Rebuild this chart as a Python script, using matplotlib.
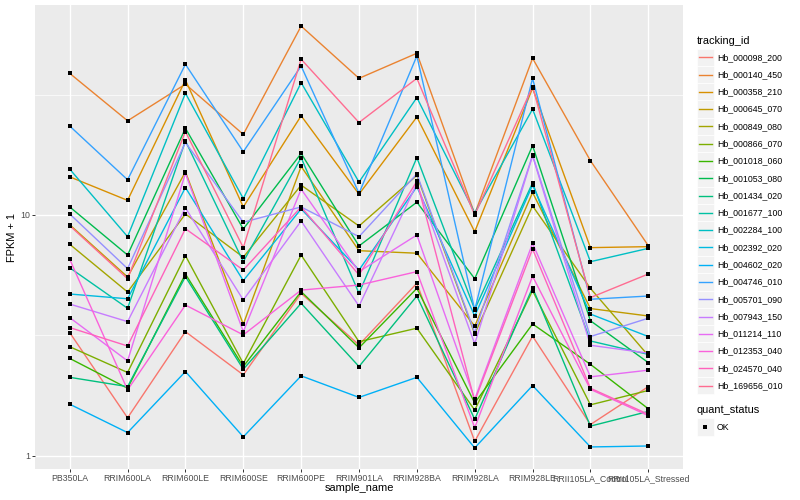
import numpy as np
import matplotlib
matplotlib.use("Agg")  # no display in the sandbox
import matplotlib.pyplot as plt
from matplotlib.lines import Line2D
from matplotlib.patches import Rectangle
from matplotlib.ticker import NullFormatter

plt.rcParams["font.family"] = ["Liberation Sans", "DejaVu Sans"]

# ── Data (FPKM + 1) ─────────────────────────────────────────────────────────
samples = ["PB350LA", "RRIM600LA", "RRIM600LE", "RRIM600SE", "RRIM600PE",
           "RRIM901LA", "RRIM928BA", "RRIM928LA", "RRIM928LE",
           "RRII105LA_Control", "RRII105LA_Stressed"]

tracking_ids = ["Hb_000098_200", "Hb_000140_450", "Hb_000358_210", "Hb_000645_070",
                "Hb_000849_080", "Hb_000866_070", "Hb_001018_060", "Hb_001053_080",
                "Hb_001434_020", "Hb_001677_100", "Hb_002284_100", "Hb_002392_020",
                "Hb_004602_020", "Hb_004746_010", "Hb_005701_090", "Hb_007943_150",
                "Hb_011214_110", "Hb_012353_040", "Hb_024570_040", "Hb_169656_010"]

hb_000098_200 = [3.25, 1.44, 3.28, 2.17, 4.73, 2.89, 5.21, 1.15, 3.14, 1.35, 1.94]
hb_000140_450 = [38.7, 24.6, 34.9, 21.6, 60.8, 36.9, 46.9, 10.1, 44.7, 16.8, 7.46]
hb_000358_210 = [14.4, 11.5, 36.3, 10.8, 25.8, 12.2, 25.5, 8.52, 33.6, 7.32, 7.39]
hb_000645_070 = [9.11, 5.53, 15.1, 3.52, 15.9, 7.11, 6.94, 3.46, 12.4, 4.09, 3.81]
hb_000849_080 = [7.56, 4.79, 10.1, 6.68, 13.3, 9.00, 14.6, 3.21, 10.9, 4.96, 2.61]
hb_000866_070 = [2.84, 2.22, 6.78, 2.42, 6.82, 2.98, 3.39, 1.55, 4.85, 1.63, 1.87]
hb_001018_060 = [2.54, 1.91, 5.69, 2.35, 4.81, 2.81, 4.96, 1.66, 3.53, 2.40, 1.57]
hb_001053_080 = [10.8, 6.82, 22.9, 8.75, 18.0, 7.44, 11.3, 5.44, 19.4, 3.64, 2.44]
hb_001434_020 = [2.12, 1.94, 5.55, 2.29, 4.30, 2.35, 4.61, 1.42, 4.99, 1.33, 1.53]
hb_001677_100 = [6.04, 4.10, 20.3, 6.40, 17.3, 4.73, 17.3, 4.06, 13.6, 3.00, 2.64]
hb_002284_100 = [15.5, 8.13, 32.0, 11.7, 35.4, 13.7, 30.7, 10.2, 27.5, 6.40, 7.27]
hb_002392_020 = [4.70, 4.49, 13.0, 5.34, 10.6, 5.91, 13.1, 3.81, 13.3, 3.88, 3.13]
hb_004602_020 = [1.64, 1.25, 2.24, 1.20, 2.15, 1.75, 2.12, 1.08, 1.96, 1.09, 1.10]
hb_004746_010 = [23.4, 14.0, 42.2, 18.3, 41.5, 12.3, 45.7, 4.04, 36.9, 4.47, 4.61]
hb_005701_090 = [10.1, 5.99, 20.0, 9.33, 10.8, 8.13, 14.8, 3.25, 17.7, 3.13, 3.73]
hb_007943_150 = [4.27, 3.61, 10.7, 4.44, 9.44, 4.19, 13.5, 2.92, 17.6, 2.88, 2.67]
hb_011214_110 = [3.75, 2.48, 14.9, 3.28, 12.8, 5.82, 8.26, 1.72, 7.63, 2.13, 2.27]
hb_012353_040 = [6.55, 1.88, 4.23, 3.18, 4.88, 5.12, 5.82, 1.31, 5.57, 1.89, 1.47]
hb_024570_040 = [3.41, 2.86, 8.77, 5.91, 10.8, 5.64, 13.8, 1.69, 7.23, 1.91, 1.49]
hb_169656_010 = [9.03, 5.44, 22.2, 7.32, 44.3, 24.2, 36.9, 10.0, 34.1, 4.54, 5.69]

series = [hb_000098_200, hb_000140_450, hb_000358_210, hb_000645_070,
          hb_000849_080, hb_000866_070, hb_001018_060, hb_001053_080,
          hb_001434_020, hb_001677_100, hb_002284_100, hb_002392_020,
          hb_004602_020, hb_004746_010, hb_005701_090, hb_007943_150,
          hb_011214_110, hb_012353_040, hb_024570_040, hb_169656_010]

quant_levels = ["OK"]

# ggplot default hue palette for 20 levels
palette = ["#F8766D", "#EA8331", "#D89000", "#C09B00", "#A3A500", "#7CAE00",
           "#39B600", "#00BB4E", "#00BF7D", "#00C1A3", "#00BFC4", "#00BAE0",
           "#00B0F6", "#35A2FF", "#9590FF", "#C77CFF", "#E76BF3", "#FA62DB",
           "#FF62BC", "#FF6C91"]

W, H = 800, 500


def fx(px):
    return px / W


def fy(py):
    return 1 - py / H


# ── Figure / panel ───────────────────────────────────────────────────────────
fig = plt.figure(figsize=(8, 5), dpi=100)
ax = fig.add_axes([fx(35), fy(469), 648 / W, 464 / H])
ax.set_facecolor("#EBEBEB")
for sp in ax.spines.values():
    sp.set_visible(False)

x = np.arange(len(samples))
for vals, col in zip(series, palette):
    ax.plot(x, vals, color=col, lw=1.0, zorder=2)
for vals in series:
    ax.plot(x, vals, "s", color="black", ms=2.7, mew=0, zorder=3)

ax.set_yscale("log")
all_vals = np.log10(np.concatenate([np.asarray(s) for s in series]))
lo, hi = all_vals.min(), all_vals.max()
pad = 0.05 * (hi - lo)
ax.set_ylim(10 ** (lo - pad), 10 ** (hi + pad))
ax.set_xlim(-0.6, len(samples) - 0.4)

ax.set_yticks([1, 10])
ax.set_yticklabels(["1", "10"])
ax.set_yticks([10 ** 0.5, 10 ** 1.5], minor=True)
ax.yaxis.set_minor_formatter(NullFormatter())
ax.set_xticks(x)
ax.set_xticklabels(samples)

ax.tick_params(which="major", length=2.0, width=0.7, color="#333333",
               labelcolor="#4D4D4D", labelsize=6.3, pad=1.5)
ax.tick_params(which="minor", length=0)
ax.set_axisbelow(True)
ax.grid(True, which="major", color="white", lw=1.0)
ax.grid(True, which="minor", axis="y", color="white", lw=0.5)

fig.text(fx(12), fy(237), "FPKM + 1", rotation=90, ha="center", va="center",
         fontsize=7.9, color="black")
fig.text(fx(359), fy(488), "sample_name", ha="center", va="center",
         fontsize=7.9, color="black")

# ── Legends (drawn by hand, ggplot style) ────────────────────────────────────
key = 17.28
kx = 696.5
fig.text(fx(kx), fy(40.5), "tracking_id", ha="left", va="center", fontsize=7.9)
for i, (name, col) in enumerate(zip(tracking_ids, palette)):
    cy = 57.3 + key * i
    fig.add_artist(Rectangle((fx(kx), fy(cy + key / 2)), key / W, key / H,
                             transform=fig.transFigure, facecolor="#F2F2F2",
                             edgecolor="white", lw=0.5))
    fig.add_artist(Line2D([fx(kx + 2), fx(kx + key - 2)], [fy(cy), fy(cy)],
                          transform=fig.transFigure, color=col, lw=1.0))
    fig.text(fx(kx + key + 3), fy(cy), name, ha="left", va="center",
             fontsize=6.3, color="black")

fig.text(fx(kx), fy(410), "quant_status", ha="left", va="center", fontsize=7.9)
for i, name in enumerate(quant_levels):
    cy = 427 + key * i
    fig.add_artist(Rectangle((fx(kx), fy(cy + key / 2)), key / W, key / H,
                             transform=fig.transFigure, facecolor="#F2F2F2",
                             edgecolor="white", lw=0.5))
    fig.add_artist(Line2D([fx(kx + key / 2)], [fy(cy)], transform=fig.transFigure,
                          marker="s", color="black", ms=2.7, mew=0, lw=0))
    fig.text(fx(kx + key + 3), fy(cy), name, ha="left", va="center",
             fontsize=6.3, color="black")

fig.savefig("out.png", dpi=100, facecolor="white")
